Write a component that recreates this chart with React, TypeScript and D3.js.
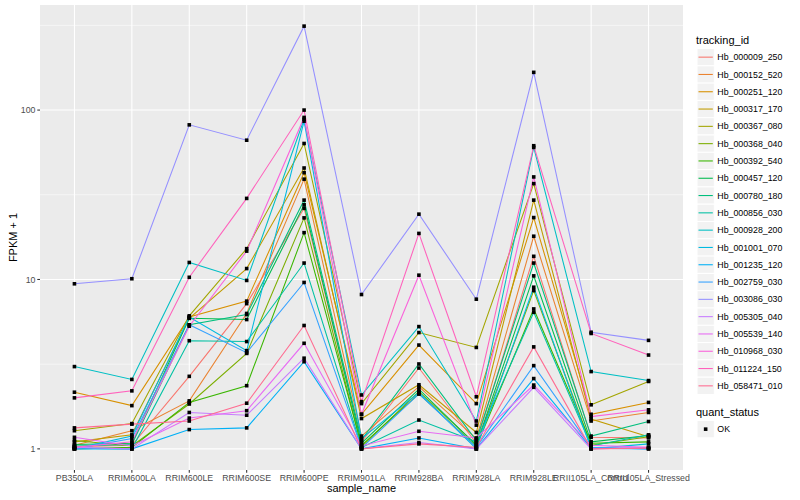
import * as d3 from "d3";

const samples = [
  "PB350LA",
  "RRIM600LA",
  "RRIM600LE",
  "RRIM600SE",
  "RRIM600PE",
  "RRIM901LA",
  "RRIM928BA",
  "RRIM928LA",
  "RRIM928LE",
  "RRII105LA_Control",
  "RRII105LA_Stressed",
];

const trackingIds = [
  "Hb_000009_250",
  "Hb_000152_520",
  "Hb_000251_120",
  "Hb_000317_170",
  "Hb_000367_080",
  "Hb_000368_040",
  "Hb_000392_540",
  "Hb_000457_120",
  "Hb_000780_180",
  "Hb_000856_030",
  "Hb_000928_200",
  "Hb_001001_070",
  "Hb_001235_120",
  "Hb_002759_030",
  "Hb_003086_030",
  "Hb_005305_040",
  "Hb_005539_140",
  "Hb_010968_030",
  "Hb_011224_150",
  "Hb_058471_010",
];

// FPKM + 1, one row per tracking_id, columns in sample order
const fpkm: number[][] = [
  [1.03, 1.05, 2.68, 7.2, 26.3, 1.1, 3.0, 1.08, 13.7, 1.17, 1.16],
  [1.05, 1.28, 1.92, 6.3, 39.1, 1.19, 2.33, 1.15, 18.0, 1.46, 1.64],
  [2.16, 1.8, 6.0, 7.45, 42.7, 1.6, 4.1, 1.85, 23.2, 1.6, 1.88],
  [1.1, 1.21, 5.9, 11.6, 45.5, 1.51, 2.39, 1.25, 29.4, 1.5, 1.18],
  [1.28, 1.41, 6.1, 15.2, 63.5, 1.85, 4.86, 3.97, 36.8, 1.82, 2.5],
  [1.12, 1.04, 1.84, 3.66, 23.1, 1.03, 2.18, 1.06, 8.6, 1.05, 1.18],
  [1.0, 1.02, 1.88, 2.36, 18.9, 1.05, 2.11, 1.03, 6.7, 1.08, 1.1],
  [1.06, 1.08, 5.9, 5.8, 27.6, 1.08, 2.25, 1.05, 10.5, 1.1, 1.2],
  [1.04, 1.06, 5.4, 6.2, 29.4, 1.13, 3.17, 1.12, 12.5, 1.19, 1.45],
  [1.01, 1.0, 4.35, 4.3, 12.5, 1.02, 1.48, 1.1, 6.4, 1.04, 1.21],
  [3.06, 2.57, 12.6, 9.87, 88.3, 2.08, 5.27, 1.46, 60.2, 2.86, 2.53],
  [1.0, 1.19, 6.0, 3.8, 86.0, 1.15, 2.15, 1.0, 9.0, 1.0, 1.07],
  [1.0, 1.0, 1.3, 1.33, 3.27, 1.0, 1.16, 1.0, 2.6, 1.01, 1.0],
  [1.0, 1.15, 5.4, 3.7, 9.6, 1.01, 2.11, 1.02, 3.1, 1.02, 1.0],
  [9.43, 10.1, 81.8, 66.4, 313, 8.15, 24.3, 7.65, 167, 4.88, 4.37],
  [1.02, 1.0, 1.64, 1.58, 3.43, 1.0, 1.09, 1.0, 2.31, 1.0, 1.02],
  [1.17, 1.04, 1.52, 1.68, 4.2, 1.04, 1.27, 1.16, 2.38, 1.05, 1.02],
  [1.02, 1.1, 5.3, 14.7, 90.5, 1.6, 10.6, 1.38, 40.3, 1.55, 1.7],
  [2.0, 2.2, 10.3, 30.1, 100, 1.9, 18.7, 2.03, 61.6, 4.8, 3.58],
  [1.33, 1.4, 1.46, 1.86, 5.35, 1.0, 1.07, 1.02, 4.0, 1.0, 1.01],
];

const palette = [
  "#F8766D", "#EA8331", "#D89000", "#C09B00", "#A3A500",
  "#7CAE00", "#39B600", "#00BB4E", "#00BF7D", "#00C1A3",
  "#00BFC4", "#00BAE0", "#00B0F6", "#35A2FF", "#9590FF",
  "#C77CFF", "#E76BF3", "#FA62DB", "#FF62BC", "#FF6C91",
];

const yTicks = [1, 10, 100];
const yMinor = [Math.sqrt(10), Math.sqrt(1000), Math.sqrt(100000)];

const W = 800;
const H = 500;
const PANEL = { left: 40, top: 5, right: 683, bottom: 470 };
const FONT = "'Liberation Sans', Arial, Helvetica, sans-serif";

export default function App() {
  const allVals = fpkm.flat();
  const lo = Math.log10(d3.min(allVals)!);
  const hi = Math.log10(d3.max(allVals)!);
  const pad = (hi - lo) * 0.05;

  const y = d3
    .scaleLog()
    .domain([Math.pow(10, lo - pad), Math.pow(10, hi + pad)])
    .range([PANEL.bottom, PANEL.top]);

  const step = (PANEL.right - PANEL.left) / (samples.length - 1 + 1.2);
  const x = d3
    .scalePoint<string>()
    .domain(samples)
    .range([PANEL.left + 0.6 * step, PANEL.right - 0.6 * step]);

  const line = d3
    .line<number>()
    .x((_, i) => x(samples[i])!)
    .y((d) => y(d));

  const xMinor: number[] = [];
  const legendX = 697;
  const legendY0 = 48.5;
  const keyH = 17.3;

  return (
    <svg
      width={W}
      height={H}
      style={{ position: "absolute", left: 0, top: 0, display: "block", fontFamily: FONT }}
    >
      <rect x={0} y={0} width={W} height={H} fill="#FFFFFF" />
      <rect
        x={PANEL.left}
        y={PANEL.top}
        width={PANEL.right - PANEL.left}
        height={PANEL.bottom - PANEL.top}
        fill="#EBEBEB"
      />
      {yMinor.map((t) => (
        <line key={`ym-${t}`} x1={PANEL.left} x2={PANEL.right} y1={y(t)} y2={y(t)} stroke="#FFFFFF" strokeWidth={0.53} />
      ))}
      {xMinor.map((t) => (
        <line key={`xm-${t}`} />
      ))}
      {yTicks.map((t) => (
        <line key={`yg-${t}`} x1={PANEL.left} x2={PANEL.right} y1={y(t)} y2={y(t)} stroke="#FFFFFF" strokeWidth={1.07} />
      ))}
      {samples.map((s) => (
        <line key={`xg-${s}`} x1={x(s)} x2={x(s)} y1={PANEL.top} y2={PANEL.bottom} stroke="#FFFFFF" strokeWidth={1.07} />
      ))}

      {fpkm.map((row, i) => (
        <path key={`l-${i}`} d={line(row) ?? undefined} fill="none" stroke={palette[i]} strokeWidth={1.07} />
      ))}
      {fpkm.map((row, i) =>
        row.map((v, j) => (
          <rect key={`p-${i}-${j}`} x={x(samples[j])! - 1.8} y={y(v) - 1.8} width={3.6} height={3.6} fill="#000000" />
        )),
      )}

      {/* y axis */}
      {yTicks.map((t) => (
        <g key={`yt-${t}`}>
          <line x1={PANEL.left - 2.7} x2={PANEL.left} y1={y(t)} y2={y(t)} stroke="#333333" strokeWidth={1.07} />
          <text x={PANEL.left - 4.5} y={y(t)} dy="0.35em" textAnchor="end" fontSize={8.8} fill="#4D4D4D">
            {t}
          </text>
        </g>
      ))}
      {/* x axis */}
      {samples.map((s) => (
        <g key={`xt-${s}`}>
          <line x1={x(s)} x2={x(s)} y1={PANEL.bottom} y2={PANEL.bottom + 2.7} stroke="#333333" strokeWidth={1.07} />
          <text x={x(s)} y={PANEL.bottom + 10.5} textAnchor="middle" fontSize={8.8} fill="#4D4D4D">
            {s}
          </text>
        </g>
      ))}
      <text x={(PANEL.left + PANEL.right) / 2} y={492} textAnchor="middle" fontSize={11} fill="#000000">
        sample_name
      </text>
      <text
        transform={`translate(16.5, ${(PANEL.top + PANEL.bottom) / 2}) rotate(-90)`}
        textAnchor="middle"
        fontSize={11}
        fill="#000000"
      >
        FPKM + 1
      </text>

      {/* legend: tracking_id */}
      <text x={legendX - 1} y={44} fontSize={11} fill="#000000">
        tracking_id
      </text>
      {trackingIds.map((id, i) => {
        const ky = legendY0 + i * keyH;
        return (
          <g key={`lg-${id}`}>
            <rect x={legendX} y={ky} width={keyH} height={keyH} fill="#F2F2F2" stroke="#FFFFFF" strokeWidth={1} />
            <line x1={legendX + 1.5} x2={legendX + keyH - 1.5} y1={ky + keyH / 2} y2={ky + keyH / 2} stroke={palette[i]} strokeWidth={1.07} />
            <text x={legendX + keyH + 3} y={ky + keyH / 2} dy="0.35em" fontSize={8.8} fill="#000000">
              {id}
            </text>
          </g>
        );
      })}

      {/* legend: quant_status */}
      <text x={legendX - 1} y={416} fontSize={11} fill="#000000">
        quant_status
      </text>
      <rect x={legendX} y={420.5} width={keyH} height={keyH} fill="#F2F2F2" stroke="#FFFFFF" strokeWidth={1} />
      <rect x={legendX + keyH / 2 - 1.8} y={420.5 + keyH / 2 - 1.8} width={3.6} height={3.6} fill="#000000" />
      <text x={legendX + keyH + 3} y={420.5 + keyH / 2} dy="0.35em" fontSize={8.8} fill="#000000">
        OK
      </text>
    </svg>
  );
}
